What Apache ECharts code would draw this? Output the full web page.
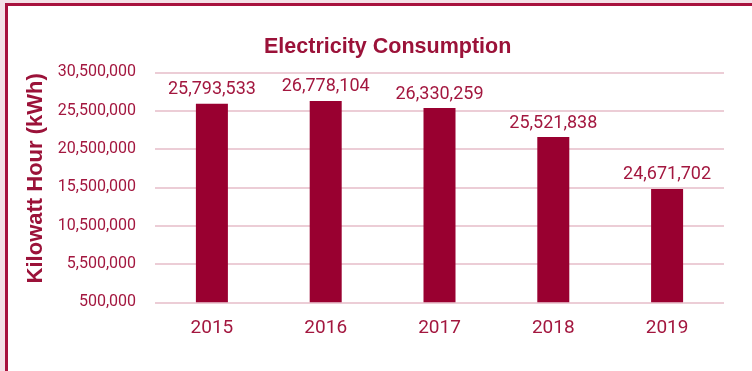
<!DOCTYPE html>
<html>
<head>
<meta charset="utf-8">
<script src="https://cdn.jsdelivr.net/npm/echarts@6/dist/echarts.min.js"></script>
<style>
  html, body { margin: 0; padding: 0; width: 752px; height: 371px; overflow: hidden; background: #f4e1e7; }
  #frame { position: absolute; left: 5px; top: 3px; width: 800px; height: 400px; background: #ffffff;
           border-left: 3px solid #a8123e; border-top: 3px solid #a8123e; }
  #chart { position: absolute; left: 0; top: 0; width: 752px; height: 371px; }
</style>
</head>
<body>
<div id="frame"></div>
<div id="chart"></div>
<script>
// Data
const years = ['2015', '2016', '2017', '2018', '2019'];
// bar heights as drawn against the axis
const barValues = [26400000, 26760000, 25840000, 22060000, 15280000];
// numbers printed above the bars
const labelValues = [25793533, 26778104, 26330259, 25521838, 24671702];
const yMin = 500000;
const yMax = 30500000;
const yStep = 5000000;

const fmt = v => String(Math.round(v)).replace(/\B(?=(\d{3})+(?!\d))/g, ',');

const chart = echarts.init(document.getElementById('chart'), null, { renderer: 'canvas' });
chart.setOption({
  backgroundColor: 'transparent',
  animation: false,
  title: {
    text: 'Electricity Consumption',
    left: 259,
    top: 31,
    textStyle: { fontFamily: 'Liberation Sans', fontWeight: 'bold', fontSize: 21.5, color: '#9b1239' }
  },
  grid: { left: 155, right: 28, top: 72.3, bottom: 68.7, containLabel: false },
  xAxis: {
    type: 'category',
    data: years,
    axisLine: { show: false },
    axisTick: { show: false },
    axisLabel: { fontFamily: 'Roboto', fontSize: 19, color: '#a3173f', margin: 16 }
  },
  yAxis: {
    type: 'value',
    min: yMin,
    max: yMax,
    interval: yStep,
    name: 'Kilowatt Hour (kWh)',
    nameLocation: 'middle',
    nameRotate: 90,
    nameGap: 99,
    nameTextStyle: { fontFamily: 'Liberation Sans', fontWeight: 'bold', fontSize: 22, color: '#9b1239', padding: [0, 0, 0, 18] },
    axisLine: { show: false },
    axisTick: { show: false },
    axisLabel: { fontFamily: 'Roboto', fontSize: 16, color: '#a3173f', margin: 19, formatter: fmt },
    splitLine: { show: true, lineStyle: { color: '#e6bcc8', width: 1.5 } }
  },
  series: [{
    type: 'bar',
    data: barValues,
    barWidth: 32,
    itemStyle: { color: '#990030' },
    label: {
      show: true,
      position: 'top',
      distance: 5,
      fontFamily: 'Roboto',
      fontSize: 18,
      color: '#a3173f',
      formatter: p => fmt(labelValues[p.dataIndex])
    }
  }]
});
</script>
</body>
</html>
